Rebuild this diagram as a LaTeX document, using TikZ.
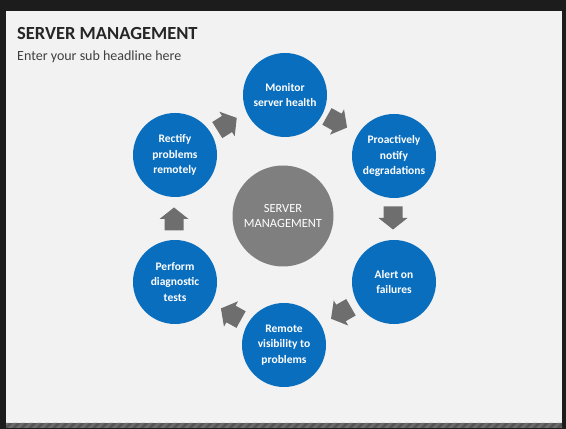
\documentclass[tikz,border=0pt]{standalone}
\usepackage{fontspec}
\setmainfont{Carlito}
\definecolor{frame}{HTML}{1C1C1C}
\definecolor{slide}{HTML}{F2F2F2}
\definecolor{bluec}{HTML}{0A6EBE}
\definecolor{grayc}{HTML}{7F7F7F}
\definecolor{arrowc}{HTML}{6E6E6E}
\definecolor{band}{HTML}{555555}
\definecolor{bandl}{HTML}{6C6C6C}
\tikzset{
  bluecirc/.style={circle, fill=bluec, minimum size=84pt, inner sep=0pt, align=center,
    text=white, font=\bfseries\fontsize{11.5}{15.5}\selectfont},
  graycirc/.style={circle, fill=grayc, minimum size=101pt, inner sep=0pt, align=center,
    text=white, font=\fontsize{12.5}{15.5}\selectfont},
  pics/blockarrow/.style={code={
    \fill[arrowc] (-11.5,-9.5) -- (0,-9.5) -- (0,-14.5) -- (11.5,0) -- (0,14.5) -- (0,9.5) -- (-11.5,9.5) -- cycle;
  }}
}
\begin{document}
\begin{tikzpicture}[x=1pt,y=1pt]
\useasboundingbox (0,0) rectangle (566,429);
\fill[frame] (0,0) rectangle (566,429);
\fill[slide] (6,6) rectangle (562,418);
\fill[band] (6,1) rectangle (562,6);
\begin{scope}
\clip (6,1) rectangle (562,6);
\foreach \i in {0,8,...,568} {
  \fill[bandl] (\i,1) -- (\i+4,1) -- (\i+9,6) -- (\i+5,6) -- cycle;
}
\end{scope}
\node[anchor=west, inner sep=0pt, font=\bfseries\fontsize{18.5}{22}\selectfont, text=black!85] (title) at (17,396) {SERVER MANAGEMENT};
\node[anchor=west, inner sep=0pt, font=\fontsize{14}{16}\selectfont, text=black!75] (sub) at (17,372) {Enter your sub headline here};

\node[graycirc] (center) at (283,213) {SERVER\\MANAGEMENT};
\node[bluecirc] (monitor) at (285,334) {Monitor\\server health};
\node[bluecirc] (proact) at (394,273) {Proactively\\notify\\degradations};
\node[bluecirc] (alert) at (394,147) {Alert on\\failures};
\node[bluecirc] (remote) at (284,84) {Remote\\visibility to\\problems};
\node[bluecirc] (perform) at (175,147) {Perform\\diagnostic\\tests};
\node[bluecirc] (rectify) at (175,274) {Rectify\\problems\\remotely};

\pic[rotate=32] at (227,305) {blockarrow};
\pic[rotate=-29] at (337,307) {blockarrow};
\pic[rotate=-90] at (393,211) {blockarrow};
\pic[rotate=-150] at (341,116) {blockarrow};
\pic[rotate=151] at (231,115) {blockarrow};
\pic[rotate=90] at (174,210) {blockarrow};
\end{tikzpicture}
\end{document}
